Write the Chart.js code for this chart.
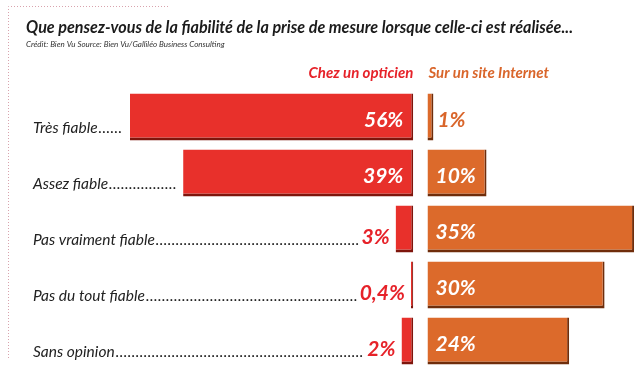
<!DOCTYPE html>
<html lang="fr">
<head>
<meta charset="utf-8">
<title>Fiabilité de la prise de mesure</title>
<script src="https://cdn.jsdelivr.net/npm/chart.js@4.4.1/dist/chart.umd.min.js"></script>
<style>
  html, body { margin: 0; padding: 0; background: #fff; }
  #wrap { position: relative; width: 641px; height: 386px; }
</style>
</head>
<body>
<div id="wrap"><canvas id="chart" width="641" height="386"></canvas></div>
<script>
const title = "Que pensez-vous de la fiabilité de la prise de mesure lorsque celle-ci est réalisée...";
const credit = "Crédit: Bien Vu Source: Bien Vu/Galliléo Business Consulting";
const categories = ["Très fiable", "Assez fiable", "Pas vraiment fiable", "Pas du tout fiable", "Sans opinion"];
const seriesNames = ["Chez un opticien", "Sur un site Internet"];
const opticien = [56, 39, 3, 0.4, 2];
const internet = [1, 10, 35, 30, 24];

const RED = "#e8302b", RED_DARK = "#7e150c", RED_TEXT = "#e62229";
const ORANGE = "#dc6a2b", ORANGE_DARK = "#6f2d0b", ORANGE_TEXT = "#d9652a";
const FONT = "Lato, 'Noto Sans', sans-serif";

// 0,4% style labels
const fmt = (v) => String(v).replace(".", ",") + "%";

const textPlugin = {
  id: "texts",
  beforeDraw(chart) {
    const ctx = chart.ctx;
    ctx.save();
    ctx.strokeStyle = "#d9a3ad";
    ctx.lineWidth = 1;
    ctx.setLineDash([1, 2]);
    ctx.beginPath();
    ctx.moveTo(8.5, 358);
    ctx.lineTo(8.5, 6.5);
    ctx.lineTo(168, 6.5);
    ctx.stroke();
    ctx.restore();
  },
  afterDatasetsDraw(chart) {
    const ctx = chart.ctx;
    const area = chart.chartArea;
    ctx.save();
    ctx.textBaseline = "alphabetic";

    ctx.textAlign = "left";
    ctx.fillStyle = "#1b1b1b";
    ctx.font = "italic bold 16.5px " + FONT;
    ctx.fillText(title, 26, 33, 547);
    ctx.fillStyle = "#333";
    ctx.font = "italic 8px " + FONT;
    ctx.fillText(credit, 26, 47, 224);

    const base0 = chart.scales.xL.getPixelForValue(0);
    const base1 = chart.scales.xR.getPixelForValue(0);
    ctx.font = "italic bold 15px " + FONT;
    ctx.textAlign = "right";
    ctx.fillStyle = RED_TEXT;
    ctx.fillText(seriesNames[0], base0, 78);
    ctx.textAlign = "left";
    ctx.fillStyle = ORANGE_TEXT;
    ctx.fillText(seriesNames[1], base1 + 1, 78);

    const left = chart.getDatasetMeta(0).data;
    const right = chart.getDatasetMeta(1).data;
    categories.forEach((cat, i) => {
      const bl = left[i], br = right[i];
      const y = bl.y;
      const barLeft = Math.max(bl.x, area.left);
      let dotsEnd;

      // left values
      ctx.font = "italic bold 21px " + FONT;
      ctx.textAlign = "right";
      const lt = fmt(opticien[i]);
      if (opticien[i] >= 10) {
        ctx.fillStyle = "#fff";
        ctx.fillText(lt, bl.base - 10, y + 10);
        dotsEnd = barLeft - 7;
      } else {
        ctx.fillStyle = RED_TEXT;
        ctx.fillText(lt, barLeft - 6, y + 15);
        dotsEnd = barLeft - 6 - ctx.measureText(lt).width - 3;
      }

      // right values
      ctx.textAlign = "left";
      const rt = fmt(internet[i]);
      if (internet[i] >= 10) {
        ctx.fillStyle = "#fff";
        ctx.fillText(rt, br.base + 8, y + 10);
      } else {
        ctx.fillStyle = ORANGE_TEXT;
        ctx.fillText(rt, br.x + 4, y + 10);
      }

      // category label, then leader dots every 4px
      ctx.font = "italic 15.5px " + FONT;
      ctx.fillStyle = "#222";
      ctx.fillText(cat, 33, y + 16);
      let dx = 33 + ctx.measureText(cat).width + 1;
      while (dx + 2 <= dotsEnd) {
        ctx.fillText(".", dx, y + 16);
        dx += 4;
      }
    });
    ctx.restore();
  }
};

const barStyle = {
  borderWidth: { top: 0, left: 0, bottom: 3, right: 2 },
  borderSkipped: false,
  grouped: false,
  categoryPercentage: 1,
  barPercentage: 0.84,
  clip: 0
};

new Chart(document.getElementById("chart"), {
  type: "bar",
  data: {
    labels: categories,
    datasets: [
      { label: seriesNames[0], data: opticien, xAxisID: "xL", backgroundColor: RED, borderColor: RED_DARK, ...barStyle },
      { label: seriesNames[1], data: internet, xAxisID: "xR", backgroundColor: ORANGE, borderColor: ORANGE_DARK, ...barStyle }
    ]
  },
  options: {
    indexAxis: "y",
    responsive: false,
    animation: false,
    layout: { padding: { left: 130, right: 1, top: 89, bottom: 17 } },
    scales: {
      y: { display: false, offset: true },
      xL: { type: "linear", axis: "x", position: "bottom", stack: "x", stackWeight: 48, reverse: true, min: 0, max: 48, display: false },
      xR: { type: "linear", axis: "x", position: "bottom", stack: "x", stackWeight: 38.4, min: -2.4, max: 36, display: false }
    },
    plugins: {
      legend: { display: false },
      tooltip: { enabled: false }
    }
  },
  plugins: [textPlugin]
});
</script>
</body>
</html>
